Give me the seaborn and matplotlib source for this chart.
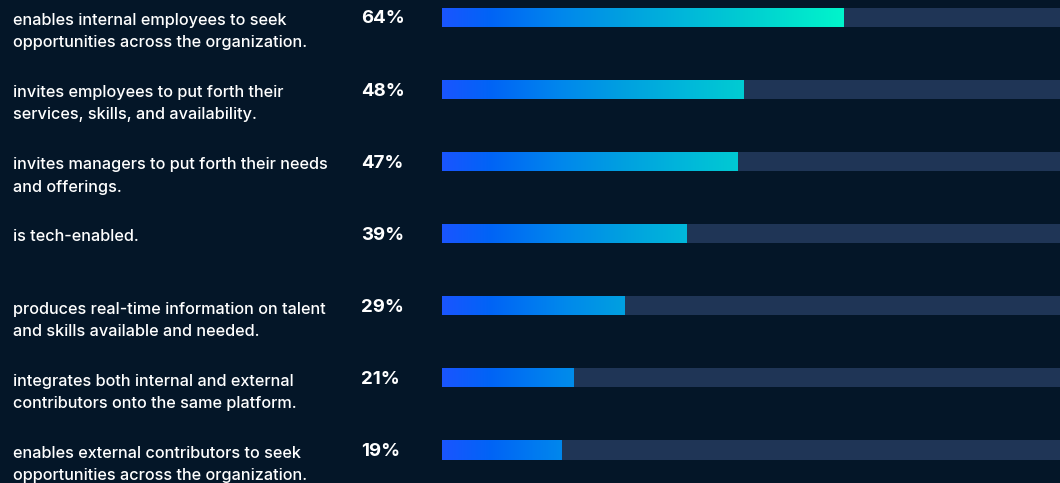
import numpy as np
import pandas as pd
import matplotlib
matplotlib.use("Agg")
import matplotlib.pyplot as plt
import matplotlib.transforms as mtransforms
from matplotlib.colors import LinearSegmentedColormap
import seaborn as sns

# ── Data ──────────────────────────────────────────────────────────────────────
labels = [
    "enables internal employees to seek\nopportunities across the organization.",
    "invites employees to put forth their\nservices, skills, and availability.",
    "invites managers to put forth their needs\nand offerings.",
    "is tech-enabled.",
    "produces real-time information on talent\nand skills available and needed.",
    "integrates both internal and external\ncontributors onto the same platform.",
    "enables external contributors to seek\nopportunities across the organization.",
]
values = [64, 48, 47, 39, 29, 21, 19]
track_total = [100] * len(values)

# ── Style ─────────────────────────────────────────────────────────────────────
BG = "#041628"
TRACK = "#1f3556"
GRAD = [(0.0, "#1a55ff"), (0.12, "#0064f6"), (0.30, "#0088ec"),
        (0.45, "#00a0e0"), (0.61, "#00b8da"), (0.75, "#00ccd2"),
        (1.0, "#00f5cb")]
BAR_H = 0.264

sns.set_style("white")
plt.rcParams["font.family"] = ["Inter", "DejaVu Sans"]

df = pd.DataFrame({"label": labels, "value": values, "total": track_total})

fig = plt.figure(figsize=(10.6, 4.83), dpi=100, facecolor=BG)
ax = fig.add_axes([442 / 1060, 0, 1 - 442 / 1060, 1])
ax.set_facecolor(BG)

# background track, then the value bars on top
sns.barplot(data=df, x="total", y="label", color=TRACK, width=BAR_H,
            saturation=1, linewidth=0, ax=ax, orient="h")
n_track = len(ax.patches)
sns.barplot(data=df, x="value", y="label", color=GRAD[0][1], width=BAR_H,
            saturation=1, linewidth=0, ax=ax, orient="h")

# gradient fill clipped to each value bar (gradient fixed in data space)
cmap = LinearSegmentedColormap.from_list("grad", GRAD)
grad = np.linspace(0, 1, 512).reshape(1, -1)
for patch in ax.patches[n_track:]:
    y0 = patch.get_y()
    y1 = y0 + patch.get_height()
    im = ax.imshow(grad, extent=[0, max(values), y1, y0], aspect="auto",
                   cmap=cmap, interpolation="bilinear",
                   zorder=patch.get_zorder() + 0.1)
    im.set_clip_path(patch)

ax.set_xlim(0, 618 / 6.28)
ax.set_ylim(6.458, -0.243)
ax.set_xticks([])
ax.set_yticks([])
ax.set_xlabel("")
ax.set_ylabel("")
sns.despine(ax=ax, left=True, bottom=True)

# text columns placed in figure-x / data-y coordinates
trans = mtransforms.blended_transform_factory(fig.transFigure, ax.transData)
for i, (lab, val) in enumerate(zip(labels, values)):
    ax.text(13 / 1060, i - 0.06, lab, transform=trans, color="white",
            fontsize=11.7, fontweight="medium", va="top", ha="left",
            linespacing=1.6, clip_on=False)
    ax.text(361 / 1060, i + 0.02, f"{val}%", transform=trans, color="white",
            fontsize=13.4, fontweight="bold", va="center", ha="left", clip_on=False)

fig.savefig("out.png", dpi=100, facecolor=BG)
